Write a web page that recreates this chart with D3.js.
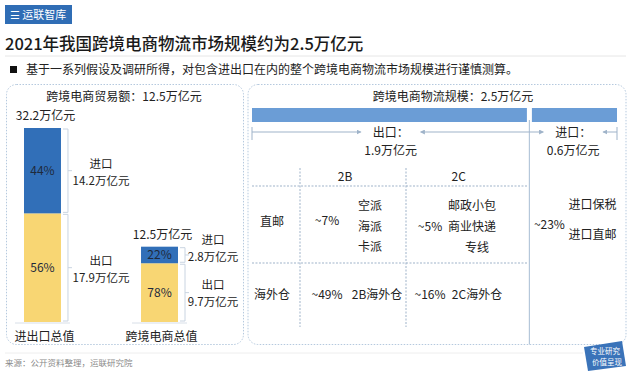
<!DOCTYPE html>
<meta charset="utf-8">
<script src="https://d3js.org/d3.v7.min.js"></script>
<style>
  body { margin: 0; background: #fff; }
  text { font-family: "Noto Sans CJK SC", "Noto Sans", sans-serif; }
</style>
<svg id="chart" width="633" height="374"></svg>
<script>
// data
const categories = ["进出口总值", "跨境电商总值"];
const totals = [32.2, 12.5];
const exportVals = [17.9, 9.7];
const importVals = [14.2, 2.8];
const exportPct = [56, 78];
const importPct = [44, 22];
const logisticsCats = ["出口", "进口"];
const logisticsVals = [1.9, 0.6];
const colNames = ["2B", "2C"];
const rowNames = ["直邮", "海外仓"];
const shareDirect = ["~7%", "~5%"];
const shareOverseas = ["~49%", "~16%"];
const modes2B = ["空派", "海派", "卡派"];
const modes2C = ["邮政小包", "商业快递", "专线"];
const importShare = "~23%";
const importModes = ["进口保税", "进口直邮"];

const svg = d3.select("#chart");
const fmt = v => v + "万亿元";

// multi-line label as one text element
function label(px, py, lines, dy, size) {
  const t = svg.append("text").attr("x", px).attr("y", py)
    .attr("text-anchor", "middle").attr("font-size", size || 12).attr("fill", "#222");
  lines.forEach((s, i) => t.append("tspan").attr("x", px).attr("dy", i ? dy : 0).text(s));
  return t;
}

// header
svg.append("rect").attr("x", 5).attr("y", 5).attr("width", 67).attr("height", 19).attr("fill", "#2f6db5");
svg.append("text").attr("x", 38).attr("y", 19).attr("text-anchor", "middle")
  .attr("font-size", 11).attr("fill", "#fff").text("☰ 运联智库");
svg.append("text").attr("x", 5).attr("y", 50).attr("font-size", 16.5).attr("font-weight", 500)
  .attr("fill", "#1a1a1a").text("2021年我国跨境电商物流市场规模约为2.5万亿元");
svg.append("line").attr("x1", 5).attr("x2", 626).attr("y1", 56).attr("y2", 56).attr("stroke", "#e6e6e6");
svg.append("rect").attr("x", 10).attr("y", 66).attr("width", 7).attr("height", 7).attr("fill", "#111");
svg.append("text").attr("x", 26).attr("y", 74).attr("font-size", 12).attr("fill", "#222")
  .text("基于一系列假设及调研所得，对包含进出口在内的整个跨境电商物流市场规模进行谨慎测算。");

// panels
[[6.5, 237], [248, 378]].forEach(p => {
  svg.append("rect").attr("x", p[0]).attr("y", 84.5).attr("width", p[1]).attr("height", 260)
    .attr("rx", 10).attr("fill", "none").attr("stroke", "#b5c9de").attr("stroke-dasharray", "1.5,1.5");
});

// ---------- left: stacked bars ----------
svg.append("text").attr("x", 124).attr("y", 101).attr("text-anchor", "middle")
  .attr("font-size", 12).attr("fill", "#222").text("跨境电商贸易额：" + totals[1] + "万亿元");

const x = d3.scaleBand().domain(categories).range([24, 178]).paddingInner(0.684).paddingOuter(0);
const y = d3.scaleLinear().domain([0, totals[0]]).range([322, 128]);
const bw = x.bandwidth();

const rows = categories.map((c, i) => ({
  cat: c, total: totals[i],
  exp: totals[i] * exportPct[i] / 100, imp: totals[i] * importPct[i] / 100,
  expV: exportVals[i], impV: importVals[i], expP: exportPct[i], impP: importPct[i]
}));
const stack = d3.stack().keys(["exp", "imp"])(rows);
const colors = { exp: "#f8d673", imp: "#316fb8" };

const g = svg.append("g");
stack.forEach(layer => {
  const k = layer.key;
  g.selectAll(null).data(layer).join("rect")
    .attr("x", d => x(d.data.cat))
    .attr("y", d => y(d[1]))
    .attr("width", bw)
    .attr("height", d => y(d[0]) - y(d[1]))
    .attr("fill", colors[k]);
  g.selectAll(null).data(layer).join("text")
    .attr("x", d => x(d.data.cat) + bw / 2)
    .attr("y", d => (y(d[0]) + y(d[1])) / 2 + 4.5)
    .attr("text-anchor", "middle").attr("font-size", 12).attr("fill", "#1f2a3c")
    .text(d => d.data[k + "P"] + "%");
  layer.forEach((d, i) => {
    const bx = x(d.data.cat) + bw + 7;
    const y0 = y(d[1]) + 1, y1 = y(d[0]) - 1, mid = (y0 + y1) / 2;
    g.append("path")
      .attr("d", `M${bx - 5},${y0}H${bx}V${y1}H${bx - 5}M${bx},${mid}H${bx + 4}`)
      .attr("fill", "none").attr("stroke", "#c9d4e1");
    const lab = k === "exp" ? "出口" : "进口";
    let ly = mid - 3;
    if (i === 1 && k === "imp") ly = mid - 11;
    if (i === 1 && k === "exp") ly = mid - 4;
    label(bx + (i ? 28 : 33), ly, [lab, fmt(d.data[k + "V"])], 17, 11.5);
  });
});

rows.forEach(r => {
  const cx = x(r.cat) + bw / 2;
  g.append("text").attr("x", cx + 3).attr("y", y(r.total) - 8).attr("text-anchor", "middle")
    .attr("font-size", 12).attr("fill", "#222").text(fmt(r.total));
  g.append("line").attr("x1", x(r.cat) - 9).attr("x2", x(r.cat) + bw + 9)
    .attr("y1", y(0) + 1).attr("y2", y(0) + 1).attr("stroke", "#d8dfe8");
  g.append("text").attr("x", cx + 2).attr("y", 341).attr("text-anchor", "middle")
    .attr("font-size", 12).attr("fill", "#222").text(r.cat);
});

// ---------- right: logistics ----------
const total = d3.sum(logisticsVals);
svg.append("text").attr("x", 453).attr("y", 101).attr("text-anchor", "middle")
  .attr("font-size", 12).attr("fill", "#222").text("跨境电商物流规模：" + total + "万亿元");

const lx = d3.scaleLinear().domain([0, total]).range([252, 617]);
const segs = [];
let acc = 0;
logisticsVals.forEach((v, i) => { segs.push({ cat: logisticsCats[i], v, a: acc, b: acc + v }); acc += v; });
const gap = 2.5;
svg.append("g").selectAll("rect").data(segs).join("rect")
  .attr("x", (d, i) => lx(d.a) + (i ? gap : 0))
  .attr("y", 108).attr("height", 14)
  .attr("width", (d, i) => lx(d.b) - lx(d.a) - gap)
  .attr("fill", "#6b9dd6");

const sep = lx(segs[0].b);
const lineCol = "#9fb3c9";
svg.append("line").attr("x1", sep).attr("x2", sep).attr("y1", 120).attr("y2", 344.5)
  .attr("stroke", "#b5c7da").attr("stroke-width", 1.2);

svg.append("defs").append("marker").attr("id", "ah").attr("viewBox", "0 0 6 6")
  .attr("refX", 5).attr("refY", 3).attr("markerWidth", 5).attr("markerHeight", 5)
  .attr("orient", "auto-start-reverse")
  .append("path").attr("d", "M0,0L6,3L0,6Z").attr("fill", lineCol);

segs.forEach(d => {
  const left = lx(d.a), right = lx(d.b), cx = (left + right) / 2;
  const ay = 132;
  svg.append("line").attr("x1", left).attr("x2", cx - 30).attr("y1", ay).attr("y2", ay)
    .attr("stroke", lineCol).attr("marker-end", "url(#ah)");
  svg.append("line").attr("x1", cx + 30).attr("x2", right).attr("y1", ay).attr("y2", ay)
    .attr("stroke", lineCol).attr("marker-start", "url(#ah)");
  label(cx, ay + 5, [d.cat + "：", fmt(d.v)], 17.5);
});
[252, 617].forEach(v => svg.append("line").attr("x1", v).attr("x2", v).attr("y1", 127).attr("y2", 140)
  .attr("stroke", lineCol));

// table grid
const cols = [252, 300, 406, sep - 2];
const dash = "2,1.5";
[186, 263].forEach(h => svg.append("line").attr("x1", cols[0]).attr("x2", cols[3]).attr("y1", h).attr("y2", h)
  .attr("stroke", lineCol).attr("stroke-dasharray", dash));
[cols[1], cols[2]].forEach(c => svg.append("line").attr("x1", c).attr("x2", c).attr("y1", 168).attr("y2", 327)
  .attr("stroke", lineCol).attr("stroke-dasharray", dash));

const T = (tx, ty, s) => label(tx, ty, [s], 0);

colNames.forEach((c, i) => T((cols[i + 1] + cols[i + 2]) / 2 - 8, 181, c));
T(272, 226, rowNames[0]);
T(272, 299, rowNames[1]);

T(327, 225, shareDirect[0]);
label(370, 210, modes2B, 20.5);
T(327, 299, shareOverseas[0]);
T(377, 299, "2B" + rowNames[1]);

const c2 = cols[2];
T(c2 + 24, 231, shareDirect[1]);
label(c2 + 66, 210, modes2C.slice(0, 2), 21);
T(c2 + 71, 252, modes2C[2]);
T(c2 + 24, 299, shareOverseas[1]);
T(c2 + 71, 299, "2C" + rowNames[1]);

T(sep + 20, 229, importShare);
label(sep + 63, 209, importModes, 30);

// footer
svg.append("line").attr("x1", 5).attr("x2", 583).attr("y1", 353).attr("y2", 353).attr("stroke", "#eeeeee");
svg.append("text").attr("x", 5).attr("y", 366).attr("font-size", 8.5).attr("fill", "#8a8a8a")
  .text("来源：公开资料整理，运联研究院");
svg.append("path").attr("d", "M584,347L622,341L626,366L588,371Z").attr("fill", "#3a73b9");
svg.append("text").attr("x", 605).attr("y", 354).attr("text-anchor", "middle").attr("font-size", 7.5)
  .attr("fill", "#fff").text("专业研究");
svg.append("text").attr("x", 607).attr("y", 365).attr("text-anchor", "middle").attr("font-size", 7.5)
  .attr("fill", "#fff").text("价值呈现");
</script>
